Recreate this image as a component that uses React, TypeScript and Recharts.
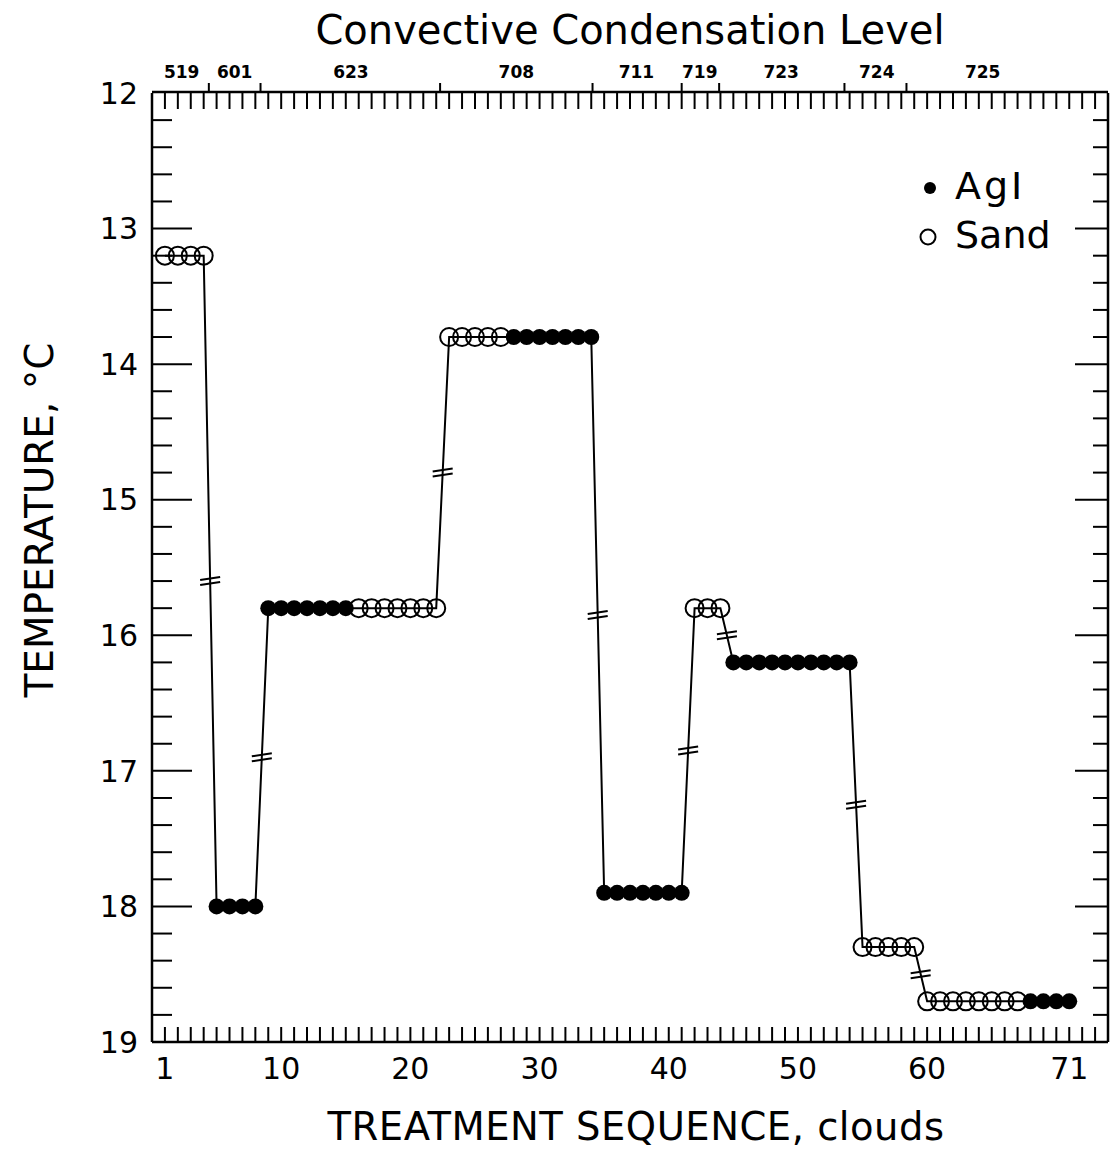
import React from 'react';
import { ComposedChart, Line, Scatter, XAxis, YAxis } from 'recharts';

// ---- data ----
const clouds = [
  1, 2, 3, 4, 5, 6, 7, 8, 9, 10, 11, 12, 13, 14, 15, 16, 17, 18, 19, 20,
  21, 22, 23, 24, 25, 26, 27, 28, 29, 30, 31, 32, 33, 34, 35, 36, 37, 38, 39, 40,
  41, 42, 43, 44, 45, 46, 47, 48, 49, 50, 51, 52, 53, 54, 55, 56, 57, 58, 59, 60,
  61, 62, 63, 64, 65, 66, 67, 68, 69, 70, 71,
];
const temperature = [
  13.2, 13.2, 13.2, 13.2,
  18.0, 18.0, 18.0, 18.0,
  15.8, 15.8, 15.8, 15.8, 15.8, 15.8, 15.8,
  15.8, 15.8, 15.8, 15.8, 15.8, 15.8, 15.8,
  13.8, 13.8, 13.8, 13.8, 13.8,
  13.8, 13.8, 13.8, 13.8, 13.8, 13.8, 13.8,
  17.9, 17.9, 17.9, 17.9, 17.9, 17.9, 17.9,
  15.8, 15.8, 15.8,
  16.2, 16.2, 16.2, 16.2, 16.2, 16.2, 16.2, 16.2, 16.2, 16.2,
  18.3, 18.3, 18.3, 18.3, 18.3,
  18.7, 18.7, 18.7, 18.7, 18.7, 18.7, 18.7, 18.7,
  18.7, 18.7, 18.7, 18.7,
];
const agent = [
  'Sand', 'Sand', 'Sand', 'Sand',
  'AgI', 'AgI', 'AgI', 'AgI',
  'AgI', 'AgI', 'AgI', 'AgI', 'AgI', 'AgI', 'AgI',
  'Sand', 'Sand', 'Sand', 'Sand', 'Sand', 'Sand', 'Sand',
  'Sand', 'Sand', 'Sand', 'Sand', 'Sand',
  'AgI', 'AgI', 'AgI', 'AgI', 'AgI', 'AgI', 'AgI',
  'AgI', 'AgI', 'AgI', 'AgI', 'AgI', 'AgI', 'AgI',
  'Sand', 'Sand', 'Sand',
  'AgI', 'AgI', 'AgI', 'AgI', 'AgI', 'AgI', 'AgI', 'AgI', 'AgI', 'AgI',
  'Sand', 'Sand', 'Sand', 'Sand', 'Sand',
  'Sand', 'Sand', 'Sand', 'Sand', 'Sand', 'Sand', 'Sand', 'Sand',
  'AgI', 'AgI', 'AgI', 'AgI',
];
// break markers on the connecting line where the level changes
const breakX = [4.5, 8.5, 22.5, 34.5, 41.5, 44.5, 54.5, 59.5];
const breakT = [15.6, 16.9, 14.8, 15.85, 16.85, 16.0, 17.25, 18.5];

// ---- ticks / labels ----
const bottomTicks = [1, 10, 20, 30, 40, 50, 60, 71];
const xMinorTicks = Array.from({ length: 73 }, (_, i) => i + 1);
const yTicks = [12, 13, 14, 15, 16, 17, 18, 19];
const yMajorInner = [13, 14, 15, 16, 17, 18];
const yMinorTicks = [
  12.2, 12.4, 12.6, 12.8, 13.2, 13.4, 13.6, 13.8, 14.2, 14.4, 14.6, 14.8,
  15.2, 15.4, 15.6, 15.8, 16.2, 16.4, 16.6, 16.8, 17.2, 17.4, 17.6, 17.8,
  18.2, 18.4, 18.6, 18.8,
];
const cclLabels = ['519', '601', '623', '708', '711', '719', '723', '724', '725'];
const cclLabelX = [2.3, 6.4, 15.4, 28.2, 37.5, 42.4, 48.7, 56.1, 64.3];
const cclBoundX = [4.4, 8.4, 22.3, 34.1, 41.0, 43.9, 53.6, 58.4];

const chartTitle = 'Convective Condensation Level';
const xTitle = 'TREATMENT SEQUENCE, clouds';
const yTitle = 'TEMPERATURE, °C';

const points = clouds.map((x, i) => ({ x, t: temperature[i], agent: agent[i] }));
const agiPoints = points.filter((p) => p.agent === 'AgI');
const sandPoints = points.filter((p) => p.agent === 'Sand');
const breakPoints = breakX.map((x, i) => ({ x, t: breakT[i] }));

const FONT = '"DejaVu Sans", sans-serif';
const X_DOMAIN: [number, number] = [0, 74];
const Y_DOMAIN: [number, number] = [12, 19];
const STROKE = { stroke: '#000', strokeWidth: 2.5 };
const TICK = { stroke: '#000', strokeWidth: 2 };
const NoLabel = () => <g />;

const AgIDot = (p: any) => <circle cx={p.cx} cy={p.cy} r={8} fill="#000" />;
const SandDot = (p: any) => (
  <circle cx={p.cx} cy={p.cy} r={9} fill="none" stroke="#000" strokeWidth={2} />
);
const BreakMark = (p: any) => (
  <g stroke="#000" strokeWidth={2}>
    <line x1={p.cx - 10} y1={p.cy - 1} x2={p.cx + 10} y2={p.cy - 4} />
    <line x1={p.cx - 10} y1={p.cy + 4} x2={p.cx + 10} y2={p.cy + 1} />
  </g>
);

const xCommon = {
  dataKey: 'x',
  type: 'number' as const,
  domain: X_DOMAIN,
  allowDataOverflow: true,
  height: 1,
  interval: 0 as const,
};
const yCommon = {
  dataKey: 't',
  type: 'number' as const,
  domain: Y_DOMAIN,
  allowDataOverflow: true,
  reversed: true,
  width: 1,
  interval: 0 as const,
};

export default function App() {
  return (
    <div style={{ position: 'absolute', left: 0, top: 0, width: 1114, height: 1156, background: '#fff', fontFamily: FONT }}>
      <ComposedChart
        width={1114}
        height={1156}
        data={points}
        margin={{ top: 91, right: 6, bottom: 113, left: 151 }}
      >
        {/* bottom axis with labels */}
        <XAxis
          {...xCommon}
          xAxisId="b"
          ticks={bottomTicks}
          tickLine={false}
          tickSize={0}
          tickMargin={16}
          axisLine={STROKE}
          tick={{ fontSize: 30, fill: '#000', fontFamily: FONT }}
        />
        {/* bottom inner minor ticks */}
        <XAxis
          {...xCommon}
          xAxisId="bm"
          ticks={xMinorTicks}
          mirror
          tick={<NoLabel />}
          tickSize={15}
          tickLine={TICK}
          axisLine={false}
        />
        {/* top axis labels */}
        <XAxis
          {...xCommon}
          xAxisId="tl"
          orientation="top"
          ticks={cclLabelX}
          tickFormatter={(v: number) => cclLabels[cclLabelX.indexOf(v)] ?? ''}
          tickLine={false}
          tickSize={0}
          tickMargin={14}
          axisLine={STROKE}
          tick={{ fontSize: 17, fontWeight: 'bold', fill: '#000', fontFamily: FONT }}
        />
        {/* top group boundaries (outward) */}
        <XAxis
          {...xCommon}
          xAxisId="tb"
          orientation="top"
          ticks={cclBoundX}
          tick={<NoLabel />}
          tickSize={10}
          tickLine={TICK}
          axisLine={false}
        />
        {/* top inner minor ticks */}
        <XAxis
          {...xCommon}
          xAxisId="tm"
          orientation="top"
          ticks={xMinorTicks}
          mirror
          tick={<NoLabel />}
          tickSize={16}
          tickLine={TICK}
          axisLine={false}
        />

        {/* left axis with labels */}
        <YAxis
          {...yCommon}
          yAxisId="t"
          ticks={yTicks}
          tickLine={false}
          tickSize={0}
          tickMargin={14}
          axisLine={STROKE}
          tick={{ fontSize: 30, fill: '#000', fontFamily: FONT }}
        />
        <YAxis
          {...yCommon}
          yAxisId="lM"
          ticks={yMajorInner}
          mirror
          tick={<NoLabel />}
          tickSize={40}
          tickLine={TICK}
          axisLine={false}
        />
        <YAxis
          {...yCommon}
          yAxisId="lm"
          ticks={yMinorTicks}
          mirror
          tick={<NoLabel />}
          tickSize={19}
          tickLine={TICK}
          axisLine={false}
        />
        <YAxis
          {...yCommon}
          yAxisId="rM"
          orientation="right"
          ticks={yMajorInner}
          mirror
          tick={<NoLabel />}
          tickSize={33}
          tickLine={TICK}
          axisLine={STROKE}
        />
        <YAxis
          {...yCommon}
          yAxisId="rm"
          orientation="right"
          ticks={yMinorTicks}
          mirror
          tick={<NoLabel />}
          tickSize={14}
          tickLine={TICK}
          axisLine={false}
        />

        <Line
          xAxisId="b"
          yAxisId="t"
          dataKey="t"
          type="linear"
          stroke="#000"
          strokeWidth={2}
          dot={false}
          activeDot={false}
          isAnimationActive={false}
        />
        <Scatter
          xAxisId="b"
          yAxisId="t"
          data={sandPoints}
          dataKey="t"
          shape={SandDot}
          isAnimationActive={false}
        />
        <Scatter
          xAxisId="b"
          yAxisId="t"
          data={agiPoints}
          dataKey="t"
          shape={AgIDot}
          isAnimationActive={false}
        />
        <Scatter
          xAxisId="b"
          yAxisId="t"
          data={breakPoints}
          dataKey="t"
          shape={BreakMark}
          isAnimationActive={false}
        />
      </ComposedChart>

      {/* title */}
      <div style={{ position: 'absolute', left: 0, width: 1260, top: 8, textAlign: 'center', fontSize: 40, lineHeight: '44px', color: '#000' }}>
        {chartTitle}
      </div>
      {/* x title */}
      <div style={{ position: 'absolute', left: 0, width: 1272, top: 1105, textAlign: 'center', fontSize: 38.5, lineHeight: '44px', letterSpacing: 0.5, color: '#000' }}>
        {xTitle}
      </div>
      {/* y title */}
      <div
        style={{
          position: 'absolute',
          left: 40 - 250,
          top: 520 - 22,
          width: 500,
          textAlign: 'center',
          fontSize: 39,
          lineHeight: '44px',
          color: '#000',
          transform: 'rotate(-90deg)',
        }}
      >
        {yTitle}
      </div>
      {/* legend */}
      <div style={{ position: 'absolute', left: 915, top: 161, fontSize: 38, lineHeight: '42px', color: '#000' }}>
        <div style={{ display: 'flex', alignItems: 'center', height: 49 }}>
          <svg width={30} height={30} style={{ marginRight: 10 }}>
            <circle cx={15} cy={17} r={6} fill="#000" />
          </svg>
          <span style={{ letterSpacing: 3 }}>AgI</span>
        </div>
        <div style={{ display: 'flex', alignItems: 'center', height: 49 }}>
          <svg width={30} height={30} style={{ marginRight: 10 }}>
            <circle cx={13} cy={17} r={7.5} fill="none" stroke="#000" strokeWidth={2} />
          </svg>
          <span>Sand</span>
        </div>
      </div>
    </div>
  );
}
